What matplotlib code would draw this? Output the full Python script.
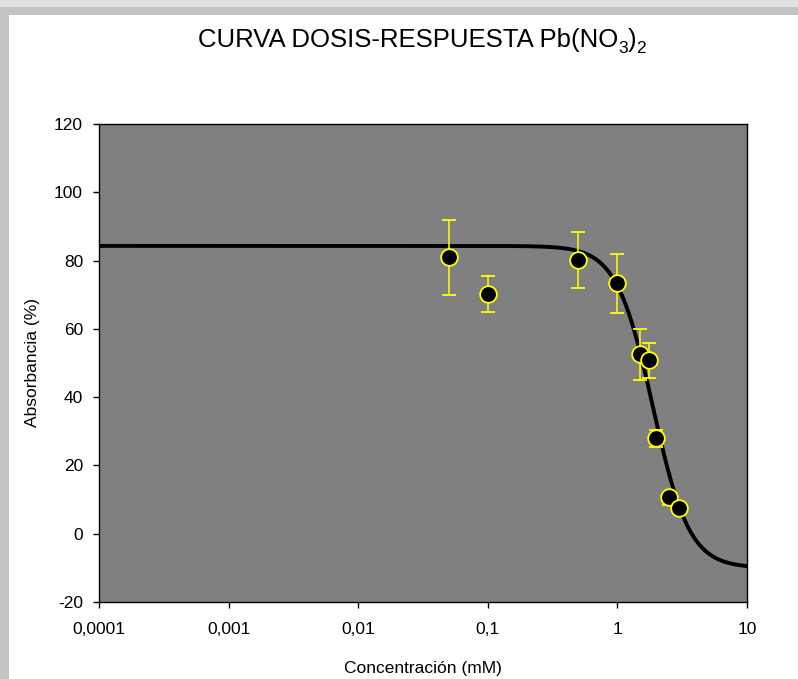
import numpy as np
import matplotlib.pyplot as plt
from matplotlib.patches import Rectangle

plt.rcParams['font.family'] = ['Liberation Sans', 'DejaVu Sans']
plt.rcParams['axes.unicode_minus'] = False

# datos
concentracion = [0.05, 0.1, 0.5, 1.0, 1.5, 1.75, 2.0, 2.5, 3.0]
absorbancia = [81.0, 70.3, 80.3, 73.3, 52.7, 51.0, 28.0, 10.7, 7.5]
error_sup = [11.0, 5.2, 8.0, 8.7, 7.3, 5.0, 2.5, 1.3, 0.0]
error_inf = [11.0, 5.3, 8.3, 8.8, 7.7, 5.5, 2.5, 2.2, 0.0]

# parametros del ajuste dosis-respuesta (4 parametros)
arriba = 84.3
abajo = -10.0
ec50 = 1.88
pendiente = 3.1

ticks_x = [0.0001, 0.001, 0.01, 0.1, 1, 10]
etiquetas_x = ['0,0001', '0,001', '0,01', '0,1', '1', '10']
ticks_y = [-20, 0, 20, 40, 60, 80, 100, 120]

fig = plt.figure(figsize=(7.98, 6.79), dpi=100)
fig.patch.set_facecolor('white')

# sombra del marco
fig.patches.append(Rectangle((0, 0), 1, 1, transform=fig.transFigure,
                             facecolor='#e2e2e2', edgecolor='none', zorder=-3))
fig.patches.append(Rectangle((0, 0), 1, 1 - 7 / 679, transform=fig.transFigure,
                             facecolor='#c4c4c4', edgecolor='none', zorder=-2))
fig.patches.append(Rectangle((9 / 798, 0), 1, 1 - 15 / 679, transform=fig.transFigure,
                             facecolor='white', edgecolor='none', zorder=-1))

ax = fig.add_axes([99 / 798, 1 - 602 / 679, 648 / 798, 478 / 679])
ax.set_facecolor('#808080')

# curva ajustada
xc = np.logspace(-4, 1, 400)
yc = abajo + (arriba - abajo) / (1 + (xc / ec50) ** pendiente)
ax.plot(xc, yc, color='black', lw=2.8, zorder=2)

ax.errorbar(concentracion, absorbancia, yerr=[error_inf, error_sup], fmt='o',
            color='black', ecolor='yellow', elinewidth=1.1, capsize=4.8, capthick=1.1,
            markersize=12, markerfacecolor='black', markeredgecolor='yellow',
            markeredgewidth=1.3, zorder=3)

ax.set_xscale('log')
ax.set_xlim(0.0001, 10)
ax.set_ylim(-20, 120)
ax.set_xticks(ticks_x)
ax.set_xticklabels(etiquetas_x)
ax.xaxis.set_minor_locator(plt.NullLocator())
ax.set_yticks(ticks_y)
ax.tick_params(direction='out', length=4.5, width=1, labelsize=12.5, colors='black')
ax.tick_params(axis='x', pad=10)
ax.tick_params(axis='y', pad=7)

for s in ax.spines.values():
    s.set_color('black')
    s.set_linewidth(1)

ax.set_xlabel('Concentración (mM)', fontsize=12.5, labelpad=17)
ax.set_ylabel('Absorbancia (%)', fontsize=12.5, labelpad=10)

# titulo con subindices colocados a mano
fig.canvas.draw()
r = fig.canvas.get_renderer()
trozos = [('CURVA DOSIS-RESPUESTA Pb(NO', 0, 18.5), ('3', -6, 12.5), (')', 0, 18.5), ('2', -6, 12.5)]
textos = []
for s, dy, fs in trozos:
    t = fig.text(0, 0, s, fontsize=fs, ha='left', va='baseline')
    textos.append(t)
anchos = [t.get_window_extent(r).width for t in textos]
x0 = 422 - sum(anchos) / 2
base = 679 - 47
for t, (s, dy, fs), w in zip(textos, trozos, anchos):
    t.set_position((x0 / 798, (base + dy) / 679))
    x0 += w

fig.savefig('out.png', dpi=100)
